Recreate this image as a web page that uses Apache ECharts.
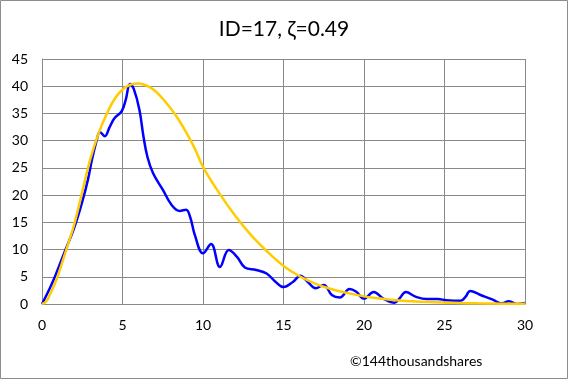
<!DOCTYPE html>
<html>
<head>
<meta charset="utf-8">
<script src="https://cdn.jsdelivr.net/npm/echarts@6/dist/echarts.min.js"></script>
<style>
html,body{margin:0;padding:0;background:#fff;}
#c{width:568px;height:379px;}
</style>
</head>
<body>
<div id="c"></div>
<script>
const titleText = 'ID=17, ζ=0.49';
const creditText = '©144thousandshares';
const xTicks = [0, 5, 10, 15, 20, 25, 30];
const yTicks = [0, 5, 10, 15, 20, 25, 30, 35, 40, 45];

// observed (blue)
const obsX = [0,0.5,0.8,1.4,2.0,2.5,2.85,3.1,3.4,3.6,3.9,4.2,4.5,4.95,5.2,5.47,5.7,6.05,6.3,6.55,6.9,7.5,8.05,8.55,8.95,9.2,9.5,10.0,10.5,11.05,11.6,12.1,12.6,13.3,13.95,14.5,15.0,15.6,16.05,16.5,17.0,17.5,18.0,18.5,19.1,19.5,20.0,20.6,21.2,21.9,22.2,22.6,23.2,23.9,24.6,25.1,26.0,26.3,26.6,27.2,28.0,28.55,29.0,29.5,30];
const obsY = [0,3.0,5.0,9.5,14.0,18.8,22.8,26.5,30.1,31.6,30.8,32.5,34.1,35.4,37.5,40.4,39.5,35.7,30.8,27.0,24.0,21.0,18.2,17.1,17.3,16.0,12.6,9.3,11.0,6.8,9.9,8.7,6.7,6.25,5.6,4.1,3.1,4.1,5.2,4.1,2.9,3.5,1.65,1.2,2.75,2.3,1.0,2.2,1.0,0.25,1.0,2.2,1.35,0.9,0.9,0.7,0.6,1.3,2.4,1.7,0.8,0.1,0.5,0,0.2];

// fitted (yellow)
const fitX = [0,0.25,0.5,0.75,1,1.5,2,2.5,3,3.5,4,4.5,5,5.5,6,6.5,7,7.5,8,8.5,9,9.5,10,11,12,13,14,15,16,17,18,19,20,21,22,23,24,25,26,27,28,29,30];
const fitY = [0,0.4,1.8,3.4,5.3,9.9,14.6,20.6,26.6,31.2,34.8,37.6,39.4,40.3,40.5,40.1,39.2,37.7,35.9,33.8,31.3,28.5,25.2,20.4,16.2,12.6,9.6,7.0,5.1,3.7,2.7,2.0,1.4,1.0,0.7,0.5,0.35,0.25,0.18,0.12,0.08,0.05,0.03];

const font = 'Lato, "Open Sans", sans-serif';
const chart = echarts.init(document.getElementById('c'), null, {renderer: 'canvas'});
chart.setOption({
  animation: false,
  backgroundColor: '#fff',
  title: {
    text: titleText, left: 'center', top: 14,
    textStyle: {fontFamily: font, fontSize: 21, fontWeight: 'normal', color: '#000'}
  },
  grid: {left: 42, right: 43, top: 59, bottom: 75, containLabel: false},
  xAxis: {
    type: 'value', min: xTicks[0], max: xTicks[xTicks.length-1], interval: 5,
    axisLine: {show: true, lineStyle: {color: '#898989', width: 1}},
    axisTick: {show: false},
    splitLine: {show: true, lineStyle: {color: '#898989', width: 1}},
    axisLabel: {fontFamily: font, fontSize: 14, color: '#000', margin: 14}
  },
  yAxis: {
    type: 'value', min: yTicks[0], max: yTicks[yTicks.length-1], interval: 5,
    axisLine: {show: true, lineStyle: {color: '#898989', width: 1}},
    axisTick: {show: false},
    splitLine: {show: true, lineStyle: {color: '#898989', width: 1}},
    axisLabel: {fontFamily: font, fontSize: 14, color: '#000', margin: 14}
  },
  graphic: [
    {type: 'rect', shape: {x: 0.5, y: 0.5, width: 567, height: 378}, style: {fill: 'none', stroke: '#8c8c8c', lineWidth: 1}, z: 100},
    {type: 'text', x: 350, y: 354, style: {text: creditText, fontFamily: font, fontSize: 14, fill: '#000'}}
  ],
  series: [
    {type: 'line', data: obsX.map((x, i) => [x, obsY[i]]), smooth: 0.4, showSymbol: false,
     lineStyle: {color: '#0000ff', width: 2.5}, z: 2},
    {type: 'line', data: fitX.map((x, i) => [x, fitY[i]]), smooth: 0.4, showSymbol: false,
     lineStyle: {color: '#ffcc00', width: 2.5}, z: 3}
  ]
});
</script>
</body>
</html>
